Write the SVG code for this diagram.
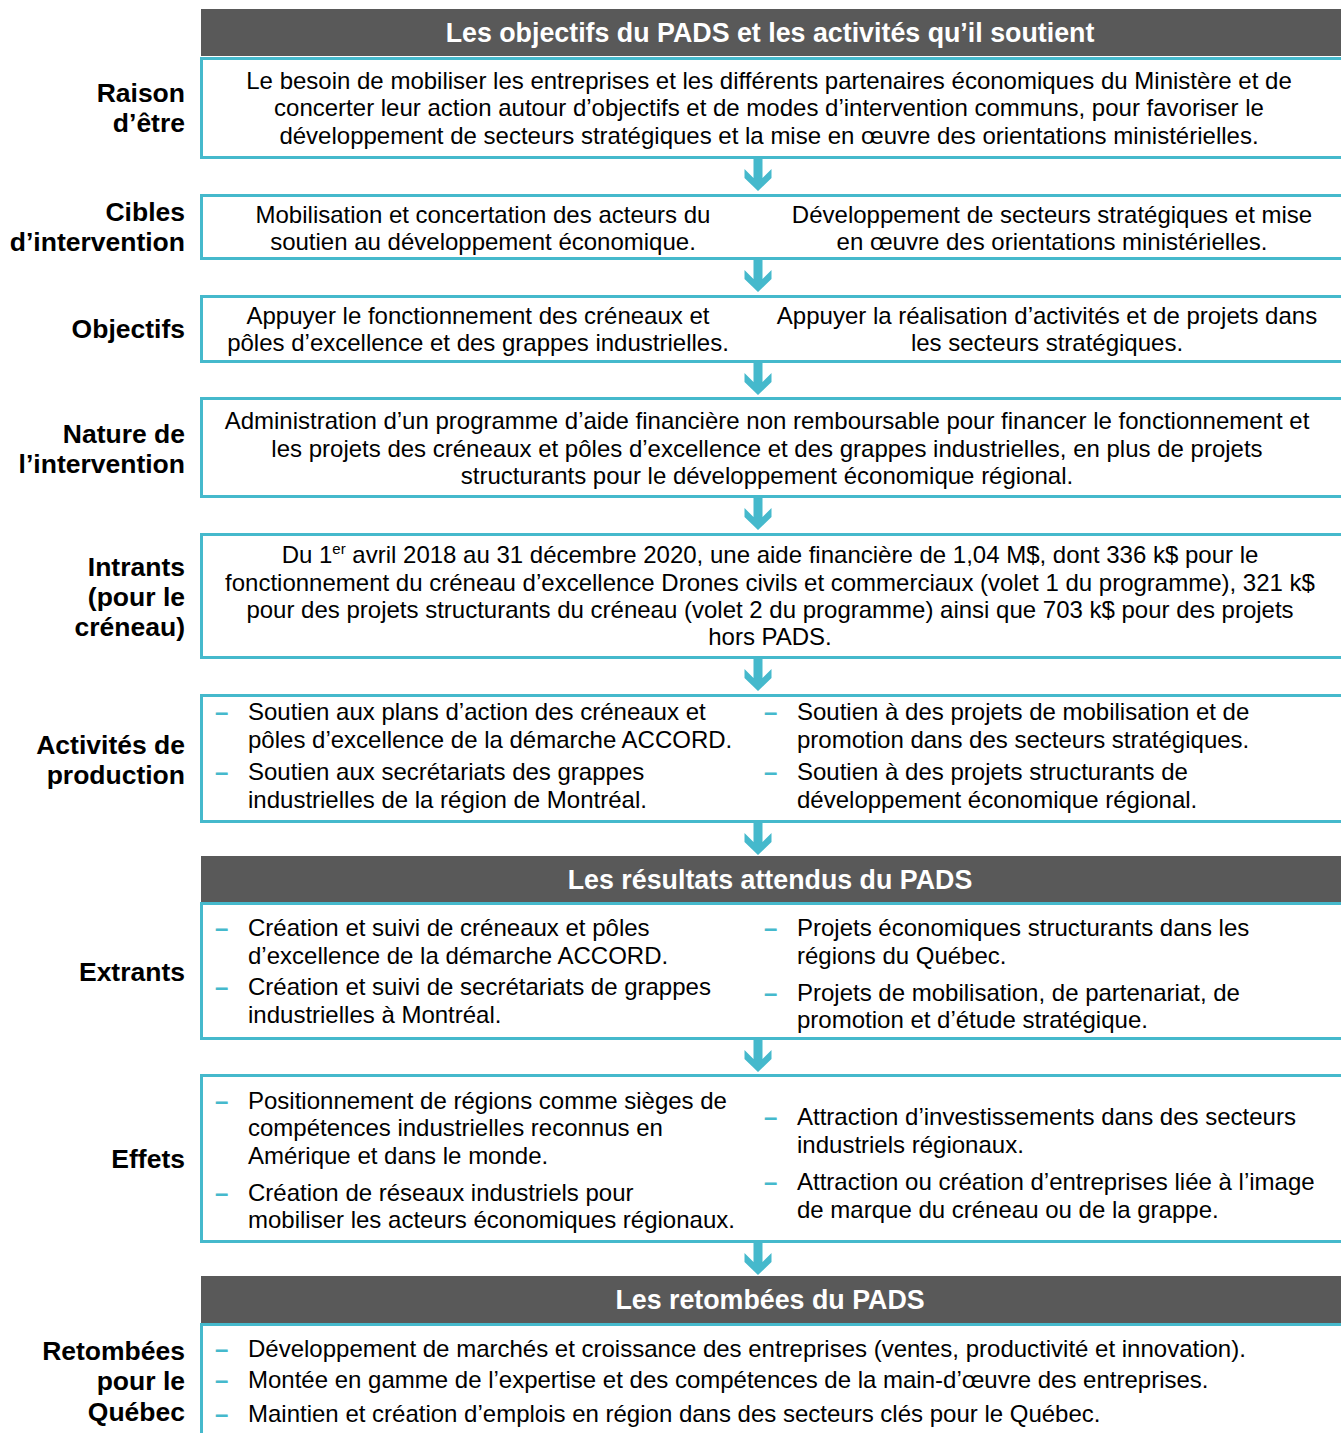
<svg xmlns="http://www.w3.org/2000/svg" xmlns:xlink="http://www.w3.org/1999/xlink" width="1341" height="1433" viewBox="0 0 1341 1433">
<style>
.hdr{fill:#595959}
.hdrt{font-family:"Liberation Sans",Arial,sans-serif;font-weight:bold;font-size:26.8px;fill:#fff;text-anchor:middle}
.box{fill:#fff;stroke:#45B9CC;stroke-width:3}
.t{font-family:"Liberation Sans",Arial,sans-serif;font-size:24px;fill:#000}
.c{text-anchor:middle}
.lbl{font-family:"Liberation Sans",Arial,sans-serif;font-size:26.5px;font-weight:bold;fill:#000;text-anchor:end}
.d{font-family:"Liberation Sans",Arial,sans-serif;font-size:24px;font-weight:bold;fill:#45B9CC}
.arr{fill:#45B9CC}
</style>
<defs>
<polygon id="arrow" points="-4.5,0 4.5,0 4.5,19 13.5,10 13.5,19 0,32 -13.5,19 -13.5,10 -4.5,19"/>
</defs>
<rect width="1341" height="1433" fill="#fff"/>

<g id="header1"><rect class="hdr" x="201" y="9" width="1140" height="47"/><text class="hdrt" x="770" y="42">Les objectifs du PADS et les activités qu’il soutient</text></g>

<g id="raison">
<text class="lbl" x="185" y="102">Raison</text><text class="lbl" x="185" y="132">d’être</text>
<rect class="box" x="201.5" y="58.5" width="1336" height="99"/>
<text class="t c" x="769" y="89">Le besoin de mobiliser les entreprises et les différents partenaires économiques du Ministère et de</text>
<text class="t c" x="769" y="116">concerter leur action autour d’objectifs et de modes d’intervention communs, pour favoriser le</text>
<text class="t c" x="769" y="144">développement de secteurs stratégiques et la mise en œuvre des orientations ministérielles.</text>
</g>

<g id="cibles">
<text class="lbl" x="185" y="221">Cibles</text><text class="lbl" x="185" y="251">d’intervention</text>
<rect class="box" x="201.5" y="195.5" width="1336" height="63"/>
<text class="t c" x="483" y="223">Mobilisation et concertation des acteurs du</text>
<text class="t c" x="483" y="250">soutien au développement économique.</text>
<text class="t c" x="1052" y="223">Développement de secteurs stratégiques et mise</text>
<text class="t c" x="1052" y="250">en œuvre des orientations ministérielles.</text>
</g>

<g id="objectifs">
<text class="lbl" x="185" y="338">Objectifs</text>
<rect class="box" x="201.5" y="296.5" width="1336" height="65"/>
<text class="t c" x="478" y="324">Appuyer le fonctionnement des créneaux et</text>
<text class="t c" x="478" y="351">pôles d’excellence et des grappes industrielles.</text>
<text class="t c" x="1047" y="324">Appuyer la réalisation d’activités et de projets dans</text>
<text class="t c" x="1047" y="351">les secteurs stratégiques.</text>
</g>

<g id="nature">
<text class="lbl" x="185" y="443">Nature de</text><text class="lbl" x="185" y="473">l’intervention</text>
<rect class="box" x="201.5" y="398.5" width="1336" height="98"/>
<text class="t c" x="767" y="429">Administration d’un programme d’aide financière non remboursable pour financer le fonctionnement et</text>
<text class="t c" x="767" y="457">les projets des créneaux et pôles d’excellence et des grappes industrielles, en plus de projets</text>
<text class="t c" x="767" y="484">structurants pour le développement économique régional.</text>
</g>

<g id="intrants">
<text class="lbl" x="185" y="576">Intrants</text><text class="lbl" x="185" y="606">(pour le</text><text class="lbl" x="185" y="636">créneau)</text>
<rect class="box" x="201.5" y="534.5" width="1336" height="123"/>
<text class="t c" x="770" y="563">Du 1<tspan font-size="15" dy="-9">er</tspan><tspan dy="9"> avril 2018 au 31 décembre 2020, une aide financière de 1,04 M$, dont 336 k$ pour le</tspan></text>
<text class="t c" x="770" y="591">fonctionnement du créneau d’excellence Drones civils et commerciaux (volet 1 du programme), 321 k$</text>
<text class="t c" x="770" y="618">pour des projets structurants du créneau (volet 2 du programme) ainsi que 703 k$ pour des projets</text>
<text class="t c" x="770" y="645">hors PADS.</text>
</g>

<g id="activites">
<text class="lbl" x="185" y="754">Activités de</text><text class="lbl" x="185" y="784">production</text>
<rect class="box" x="201.5" y="695.5" width="1336" height="126"/>
<text class="d" x="215" y="720">–</text><text class="t" x="248" y="720">Soutien aux plans d’action des créneaux et</text>
<text class="t" x="248" y="748">pôles d’excellence de la démarche ACCORD.</text>
<text class="d" x="215" y="780">–</text><text class="t" x="248" y="780">Soutien aux secrétariats des grappes</text>
<text class="t" x="248" y="808">industrielles de la région de Montréal.</text>
<text class="d" x="764" y="720">–</text><text class="t" x="797" y="720">Soutien à des projets de mobilisation et de</text>
<text class="t" x="797" y="748">promotion dans des secteurs stratégiques.</text>
<text class="d" x="764" y="780">–</text><text class="t" x="797" y="780">Soutien à des projets structurants de</text>
<text class="t" x="797" y="808">développement économique régional.</text>
</g>

<g id="header2"><rect class="hdr" x="201" y="856" width="1140" height="46"/><text class="hdrt" x="770" y="889">Les résultats attendus du PADS</text></g>

<g id="extrants">
<text class="lbl" x="185" y="981">Extrants</text>
<rect class="box" x="201.5" y="903.5" width="1336" height="135"/>
<text class="d" x="215" y="936">–</text><text class="t" x="248" y="936">Création et suivi de créneaux et pôles</text>
<text class="t" x="248" y="964">d’excellence de la démarche ACCORD.</text>
<text class="d" x="215" y="995">–</text><text class="t" x="248" y="995">Création et suivi de secrétariats de grappes</text>
<text class="t" x="248" y="1023">industrielles à Montréal.</text>
<text class="d" x="764" y="936">–</text><text class="t" x="797" y="936">Projets économiques structurants dans les</text>
<text class="t" x="797" y="964">régions du Québec.</text>
<text class="d" x="764" y="1001">–</text><text class="t" x="797" y="1001">Projets de mobilisation, de partenariat, de</text>
<text class="t" x="797" y="1028">promotion et d’étude stratégique.</text>
</g>

<g id="effets">
<text class="lbl" x="185" y="1168">Effets</text>
<rect class="box" x="201.5" y="1075.5" width="1336" height="166"/>
<text class="d" x="215" y="1109">–</text><text class="t" x="248" y="1109">Positionnement de régions comme sièges de</text>
<text class="t" x="248" y="1136">compétences industrielles reconnus en</text>
<text class="t" x="248" y="1164">Amérique et dans le monde.</text>
<text class="d" x="215" y="1201">–</text><text class="t" x="248" y="1201">Création de réseaux industriels pour</text>
<text class="t" x="248" y="1228">mobiliser les acteurs économiques régionaux.</text>
<text class="d" x="764" y="1125">–</text><text class="t" x="797" y="1125">Attraction d’investissements dans des secteurs</text>
<text class="t" x="797" y="1153">industriels régionaux.</text>
<text class="d" x="764" y="1190">–</text><text class="t" x="797" y="1190">Attraction ou création d’entreprises liée à l’image</text>
<text class="t" x="797" y="1218">de marque du créneau ou de la grappe.</text>
</g>

<g id="header3"><rect class="hdr" x="201" y="1276" width="1140" height="47"/><text class="hdrt" x="770" y="1309">Les retombées du PADS</text></g>

<g id="retombees">
<text class="lbl" x="185" y="1360">Retombées</text><text class="lbl" x="185" y="1390">pour le</text><text class="lbl" x="185" y="1421">Québec</text>
<rect class="box" x="201.5" y="1324.5" width="1336" height="130"/>
<text class="d" x="215" y="1357">–</text><text class="t" x="248" y="1357">Développement de marchés et croissance des entreprises (ventes, productivité et innovation).</text>
<text class="d" x="215" y="1388">–</text><text class="t" x="248" y="1388">Montée en gamme de l’expertise et des compétences de la main-d’œuvre des entreprises.</text>
<text class="d" x="215" y="1422">–</text><text class="t" x="248" y="1422">Maintien et création d’emplois en région dans des secteurs clés pour le Québec.</text>
</g>

<g id="connectors" class="arr">
<use xlink:href="#arrow" href="#arrow" x="758" y="159"/>
<use xlink:href="#arrow" href="#arrow" x="758" y="260"/>
<use xlink:href="#arrow" href="#arrow" x="758" y="363"/>
<use xlink:href="#arrow" href="#arrow" x="758" y="498"/>
<use xlink:href="#arrow" href="#arrow" x="758" y="659"/>
<use xlink:href="#arrow" href="#arrow" x="758" y="823"/>
<use xlink:href="#arrow" href="#arrow" x="758" y="1040"/>
<use xlink:href="#arrow" href="#arrow" x="758" y="1243"/>
</g>
</svg>
